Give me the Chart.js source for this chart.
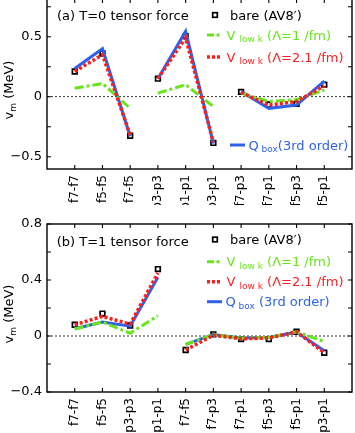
<!DOCTYPE html>
<html>
<head>
<meta charset="utf-8">
<script src="https://cdn.jsdelivr.net/npm/chart.js@4.4.1/dist/chart.umd.min.js"></script>
<style>
    html, body { margin: 0; padding: 0; background: #fff; }
    body { width: 355px; height: 433px; position: relative; overflow: hidden; }
    canvas { position: absolute; left: 0; }
    #chartA { top: -1px; }
    #chartB { top: 205px; }
</style>
</head>
<body>
<canvas id="chartA" width="355" height="206"></canvas>
<canvas id="chartB" width="355" height="228"></canvas>
<script>
// Panel (a): T=0 tensor force
const categoriesA = ['f7-f7', 'f5-f5', 'f7-f5', 'p3-p3', 'p1-p1', 'p3-p1', 'f7-p3', 'f7-p1', 'f5-p3', 'f5-p1'];
const groupEndsA = [2, 5];
const bareA = [0.21, 0.36, -0.325, 0.15, 0.505, -0.385, 0.04, -0.065, -0.06, 0.10];
const qboxA = [0.235, 0.40, -0.33, 0.15, 0.545, -0.39, 0.043, -0.097, -0.07, 0.13];
const vlowk21A = [0.21, 0.35, -0.32, 0.15, 0.49, -0.38, 0.035, -0.07, -0.04, 0.09];
const vlowk1A = [0.07, 0.11, -0.097, 0.03, 0.10, -0.082, 0.03, -0.04, -0.025, 0.055];
const yLabelsA = [-0.5, 0, 0.5];
const yMinorA = [-0.5, -0.25, 0, 0.25, 0.5, 0.75];

// Panel (b): T=1 tensor force
const categoriesB = ['f7-f7', 'f5-f5', 'p3-p3', 'p1-p1', 'f7-f5', 'f7-p3', 'f7-p1', 'f5-p3', 'f5-p1', 'p3-p1'];
const groupEndsB = [3];
const bareB = [0.08, 0.16, 0.075, 0.478, -0.10, 0.012, -0.022, -0.022, 0.03, -0.12];
const qboxB = [0.052, 0.10, 0.07, 0.42, -0.06, 0.01, -0.015, -0.01, 0.028, -0.105];
const vlowk21B = [0.08, 0.14, 0.085, 0.45, -0.10, 0.005, -0.02, -0.015, 0.03, -0.12];
const vlowk1B = [0.05, 0.10, 0.02, 0.145, -0.06, 0.01, -0.015, -0.01, 0.03, -0.04];
const yLabelsB = [-0.4, 0, 0.4, 0.8];
const yMinorB = [-0.4, -0.2, 0, 0.2, 0.4, 0.6, 0.8];

const FONT = '"DejaVu Sans", Verdana, sans-serif';
const BLUE = '#2f62ea';
const RED = '#ff1e1e';
const GREEN = '#66e61a';

// turn a series into points, with a gap after each group
function toPoints(values, groupEnds) {
    const pts = [];
    values.forEach((v, i) => {
        pts.push({ x: i, y: v });
        if (groupEnds.includes(i)) pts.push({ x: i + 0.5, y: null });
    });
    return pts;
}

function fmtTick(v) {
    if (Math.abs(v) < 1e-9) return '0';
    return (v < 0 ? '\u2212' : '') + Math.abs(v).toFixed(1);
}

// draws text runs, some as subscripts
function drawRuns(ctx, runs, x, y, color) {
    ctx.fillStyle = color;
    ctx.textBaseline = 'alphabetic';
    ctx.textAlign = 'left';
    let cx = x;
    runs.forEach(([t, sub]) => {
        ctx.font = (sub ? '9px ' : '13px ') + FONT;
        ctx.fillText(t, cx, y + 4.7 + (sub ? 2.6 : 0));
        cx += ctx.measureText(t).width;
    });
    return cx;
}

function drawSample(ctx, kind, x0, x1, y) {
    ctx.save();
    ctx.lineCap = 'butt';
    if (kind === 'green') {
        ctx.strokeStyle = GREEN; ctx.lineWidth = 3; ctx.setLineDash([7, 2.5, 3, 2.5]);
    } else if (kind === 'red') {
        ctx.strokeStyle = RED; ctx.lineWidth = 3.5; ctx.setLineDash([3, 2]);
    } else {
        ctx.strokeStyle = BLUE; ctx.lineWidth = 3; ctx.setLineDash([]);
    }
    ctx.beginPath();
    ctx.moveTo(x0, y);
    ctx.lineTo(x1, y);
    ctx.stroke();
    ctx.restore();
}

function drawSquare(ctx, x, y) {
    ctx.save();
    ctx.fillStyle = '#fff';
    ctx.strokeStyle = '#000';
    ctx.lineWidth = 1.7;
    ctx.fillRect(x - 2.3, y - 2.3, 4.6, 4.6);
    ctx.strokeRect(x - 2.3, y - 2.3, 4.6, 4.6);
    ctx.restore();
}

// frame, inward ticks, zero line, legend and y title
const framePlugin = {
    id: 'frame',
    beforeDatasetsDraw(chart) {
        const { ctx, chartArea, scales } = chart;
        const y0 = scales.y.getPixelForValue(0);
        ctx.save();
        ctx.strokeStyle = '#000';
        ctx.lineWidth = 0.8;
        ctx.setLineDash([2, 2]);
        ctx.beginPath();
        ctx.moveTo(chartArea.left, y0);
        ctx.lineTo(chartArea.right, y0);
        ctx.stroke();
        ctx.restore();
    },
    afterDraw(chart, args, opts) {
        const { ctx, chartArea: a, scales } = chart;
        ctx.save();
        ctx.strokeStyle = '#000';
        ctx.lineWidth = 1.4;
        ctx.strokeRect(a.left, a.top, a.right - a.left, a.bottom - a.top);
        ctx.lineWidth = 1.1;
        ctx.beginPath();
        opts.yMinor.forEach(v => {
            const py = scales.y.getPixelForValue(v);
            ctx.moveTo(a.left, py); ctx.lineTo(a.left + 4, py);
            ctx.moveTo(a.right, py); ctx.lineTo(a.right - 4, py);
        });
        opts.categories.forEach((c, i) => {
            const px = scales.x.getPixelForValue(i);
            ctx.moveTo(px, a.bottom); ctx.lineTo(px, a.bottom - 4);
            ctx.moveTo(px, a.top); ctx.lineTo(px, a.top + 4);
        });
        ctx.stroke();
        ctx.restore();

        // y axis title: v_m (MeV)
        ctx.save();
        ctx.translate(13, (a.top + a.bottom) / 2 + opts.titleShift);
        ctx.rotate(-Math.PI / 2);
        ctx.font = '13px ' + FONT;
        const w1 = ctx.measureText('v').width;
        const w3 = ctx.measureText(' (MeV)').width;
        ctx.font = '9px ' + FONT;
        const w2 = ctx.measureText('m').width;
        drawRuns(ctx, [['v', 0], ['m', 1], [' (MeV)', 0]], -(w1 + w2 + w3) / 2, -4.7, '#000');
        ctx.restore();

        // legend
        ctx.save();
        const L = opts.legend;
        drawRuns(ctx, [[L.title, 0]], L.titleX, L.titleY, '#000');
        drawSquare(ctx, 215, L.bareY);
        drawRuns(ctx, [['bare (AV8\u2032)', 0]], 230, L.bareY, '#000');
        drawSample(ctx, 'green', 207, 222, L.greenY);
        drawRuns(ctx, [['V ', 0], ['low k', 1], [' (\u039b=1 /fm)', 0]], 226.5, L.greenY, GREEN);
        drawSample(ctx, 'red', 207, 222, L.redY);
        drawRuns(ctx, [['V ', 0], ['low k', 1], [' (\u039b=2.1 /fm)', 0]], 226.5, L.redY, RED);
        drawSample(ctx, 'blue', L.blueX0, L.blueX0 + 15, L.blueY);
        drawRuns(ctx, L.blueRuns, L.blueX0 + 18.5, L.blueY, BLUE);
        ctx.restore();
    }
};

function makeChart(id, cfg) {
    const ctx = document.getElementById(id).getContext('2d');
    return new Chart(ctx, {
        type: 'line',
        data: {
            datasets: [
                {
                    label: 'bare (AV8\u2032)',
                    data: cfg.bare.map((v, i) => ({ x: i, y: v })),
                    showLine: false,
                    pointStyle: 'rect',
                    pointRadius: 3.3,
                    pointBorderWidth: 1.7,
                    pointBorderColor: '#000',
                    pointBackgroundColor: '#fff',
                    order: 4
                },
                {
                    label: 'Qbox (3rd order)',
                    data: toPoints(cfg.qbox, cfg.groupEnds),
                    borderColor: BLUE,
                    borderWidth: 3,
                    pointRadius: 0,
                    order: 3
                },
                {
                    label: 'Vlowk (1 /fm)',
                    data: toPoints(cfg.vlowk1, cfg.groupEnds),
                    borderColor: GREEN,
                    borderWidth: 3,
                    borderDash: [9, 3, 3, 3],
                    pointRadius: 0,
                    order: 2
                },
                {
                    label: 'Vlowk (2.1 /fm)',
                    data: toPoints(cfg.vlowk21, cfg.groupEnds),
                    borderColor: RED,
                    borderWidth: 3.5,
                    borderDash: [3, 2.2],
                    borderCapStyle: 'butt',
                    pointRadius: 0,
                    order: 1
                }
            ]
        },
        options: {
            responsive: false,
            animation: false,
            spanGaps: false,
            layout: { autoPadding: false, padding: { top: cfg.padTop, right: 3, left: 0, bottom: 0 } },
            plugins: {
                legend: { display: false },
                tooltip: { enabled: false },
                frame: cfg.frame
            },
            scales: {
                x: {
                    type: 'linear',
                    min: -1,
                    max: 10,
                    grid: { display: false, drawTicks: false },
                    border: { display: false },
                    afterBuildTicks: s => { s.ticks = cfg.categories.map((c, i) => ({ value: i })); },
                    afterFit: s => { s.height = cfg.xHeight; s.paddingLeft = 0; s.paddingRight = 0; },
                    ticks: {
                        autoSkip: false,
                        minRotation: 90,
                        maxRotation: 90,
                        padding: 6,
                        color: '#000',
                        font: { family: FONT, size: 12 },
                        callback: v => cfg.categories[v]
                    }
                },
                y: {
                    min: cfg.yMin,
                    max: cfg.yMax,
                    grid: { display: false, drawTicks: false },
                    border: { display: false },
                    afterBuildTicks: s => { s.ticks = cfg.yLabels.map(v => ({ value: v })); },
                    afterFit: s => { s.width = 47; s.paddingTop = 0; s.paddingBottom = 0; },
                    ticks: {
                        padding: 5,
                        color: '#000',
                        font: { family: FONT, size: 13 },
                        callback: v => fmtTick(v)
                    }
                }
            }
        },
        plugins: [framePlugin]
    });
}

makeChart('chartA', {
    categories: categoriesA, groupEnds: groupEndsA,
    bare: bareA, qbox: qboxA, vlowk21: vlowk21A, vlowk1: vlowk1A,
    yLabels: yLabelsA, yMin: -0.6025, yMax: 0.814,
    padTop: 0, xHeight: 36,
    frame: {
        categories: categoriesA, yMinor: yMinorA, titleShift: 6,
        legend: {
            title: '(a) T=0 tensor force', titleX: 57, titleY: 16,
            bareY: 16, greenY: 36, redY: 58,
            blueX0: 230, blueY: 146,
            blueRuns: [['Q', 0], [' box', 1], ['(3rd order)', 0]]
        }
    }
});

makeChart('chartB', {
    categories: categoriesB, groupEnds: groupEndsB,
    bare: bareB, qbox: qboxB, vlowk21: vlowk21B, vlowk1: vlowk1B,
    yLabels: yLabelsB, yMin: -0.4, yMax: 0.8,
    padTop: 19, xHeight: 41,
    frame: {
        categories: categoriesB, yMinor: yMinorB, titleShift: 6,
        legend: {
            title: '(b) T=1 tensor force', titleX: 56.7, titleY: 36,
            bareY: 34.5, greenY: 56.7, redY: 76.7,
            blueX0: 207, blueY: 96.7,
            blueRuns: [['Q', 0], [' ', 1], ['box', 1], [' (3rd order)', 0]]
        }
    }
});
</script>
</body>
</html>
